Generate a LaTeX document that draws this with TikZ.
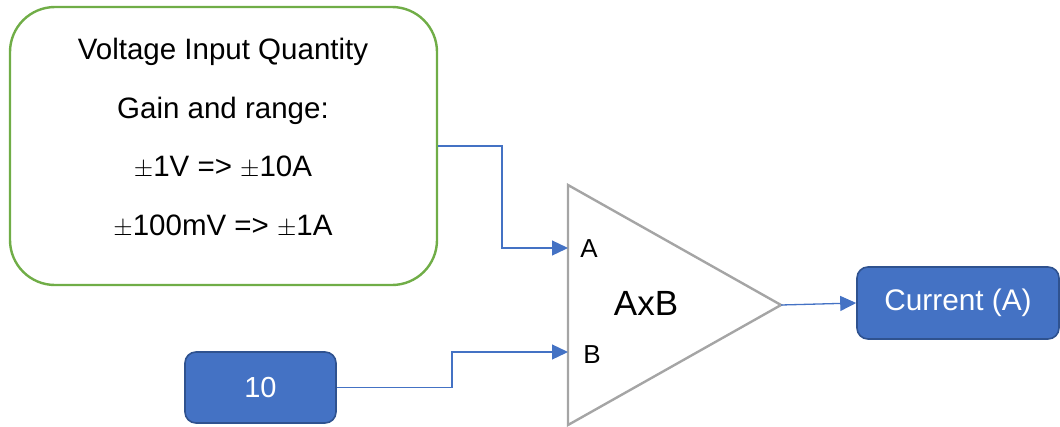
\documentclass[tikz,border=0pt]{standalone}
\usepackage{fontspec}
\setmainfont{Liberation Sans}
\usetikzlibrary{arrows.meta}
\definecolor{gboxc}{HTML}{70AD47}
\definecolor{bluef}{HTML}{4472C4}
\definecolor{blued}{HTML}{2F528F}
\definecolor{grayt}{HTML}{A5A5A5}
\tikzset{
  greenbox/.style={draw=gboxc, line width=2.4pt, rounded corners=45pt, minimum width=427pt, minimum height=278pt, inner sep=0pt},
  bluebox/.style={draw=blued, fill=bluef, line width=1.6pt, rounded corners=11pt, text=white, inner sep=0pt, font=\fontsize{29}{34}\selectfont},
  conn/.style={draw=bluef, line width=1.3pt, -{Triangle[length=16pt,width=15pt]}},
  lbl/.style={inner sep=0pt, font=\fontsize{26}{30}\selectfont}
}
\begin{document}
\begin{tikzpicture}[x=1pt,y=-1pt]
\useasboundingbox (0,0) rectangle (1060,426);
% green input box
\node[greenbox] (gbox) at (223.5,146) {};
\node[align=center, inner sep=0pt, font=\fontsize{29.5}{58.5}\selectfont] (gtext) at (223,138)
  {Voltage Input Quantity\\Gain and range:\\$\pm$1V => $\pm$10A\\$\pm$100mV => $\pm$1A};
% constant box
\node[bluebox, minimum width=151pt, minimum height=71pt] (ten) at (260.5,387.5) {10};
% output box
\node[bluebox, minimum width=202pt, minimum height=72pt, font=\fontsize{29.8}{34}\selectfont] (cur) at (958,303) {Current (A)};
% triangle multiplier
\coordinate (ttop) at (568,185);
\coordinate (tbot) at (568,425);
\coordinate (apex) at (781,305);
\coordinate (inA) at (568,248);
\coordinate (inB) at (568,352);
\draw[grayt, line width=2.4pt, line join=miter] (ttop) -- (apex) -- (tbot) -- cycle;
\node[lbl] (la) at (589,249) {A};
\node[lbl] (lb) at (592,355) {B};
\node[inner sep=0pt, font=\fontsize{35}{40}\selectfont] (axb) at (646,303) {AxB};
% connectors
\draw[conn] (gbox.east) -- (502,146) |- (inA);
\draw[conn] (ten.east) -- (452,387.5) |- (inB);
\draw[conn] (apex) -- (cur.west);
\end{tikzpicture}
\end{document}
